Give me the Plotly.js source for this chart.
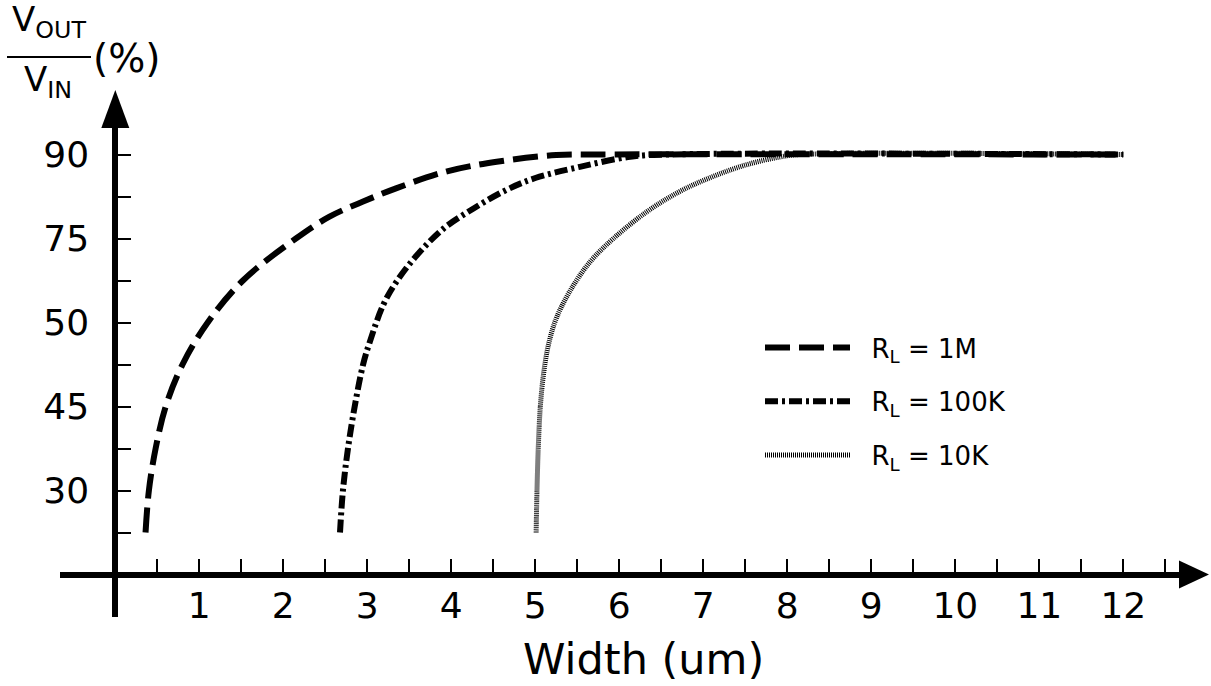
<!DOCTYPE html>
<html>
<head>
<meta charset="utf-8">
<script src="https://cdn.plot.ly/plotly-3.0.1.min.js"></script>
<style>
  html, body { margin: 0; padding: 0; background: #ffffff; }
  #chart { width: 1211px; height: 686px; }
</style>
</head>
<body>
<div id="chart"></div>
<script>
// Output ratio (%) versus device width (um) for three load resistances.
const seriesNames = ['R<sub>L</sub> = 1M', 'R<sub>L</sub> = 100K', 'R<sub>L</sub> = 10K'];

const width1M = [0.36, 0.40, 0.48, 0.60, 0.80, 1.10, 1.52, 2.15, 2.55, 2.95, 3.35, 3.95, 4.54, 5.25, 5.8, 12];
const ratio1M = [15, 30, 37.5, 45, 47.5, 50, 62.5, 75, 78.9, 81.6, 84, 87, 88.7, 89.9, 90, 90];

const width100K = [2.675, 2.71, 2.77, 2.85, 2.95, 3.03, 3.19, 3.35, 3.59, 3.91, 4.27, 4.66, 5.0, 5.53, 6.13, 6.6, 12];
const ratio100K = [15, 30, 37.5, 45, 47.5, 48.85, 55.25, 62.25, 70, 76.8, 80.4, 83.7, 85.8, 87.8, 89.6, 90, 90];

const width10K = [5.01, 5.02, 5.035, 5.06, 5.10, 5.16, 5.25, 5.41, 5.65, 5.93, 6.33, 6.72, 7.12, 7.52, 7.91, 8.15, 12];
const ratio10K = [15, 30, 37.5, 45, 47, 48.75, 51.25, 59.25, 68, 75, 79.8, 83.4, 86.1, 88.2, 89.55, 90, 90];

// The ratio axis is drawn with evenly spaced, unevenly valued labels.
const ratioLabels = ['30', '45', '50', '75', '90'];
const ratioLevelValues = [0, 30, 45, 50, 75, 90];   // value at each evenly spaced level
const widthLabels = ['1', '2', '3', '4', '5', '6', '7', '8', '9', '10', '11', '12'];

// Map a ratio value onto the evenly spaced label levels.
function toLevel(v) {
  for (let i = 0; i < ratioLevelValues.length - 1; i++) {
    const a = ratioLevelValues[i], b = ratioLevelValues[i + 1];
    if (v <= b || i === ratioLevelValues.length - 2) return i + (v - a) / (b - a);
  }
}

// Ticks every half step; only whole steps carry labels.
const xTickVals = [], xTickText = [];
widthLabels.forEach((t, i) => {
  xTickVals.push(i + 0.5, i + 1); xTickText.push('', t);
});
xTickVals.push(widthLabels.length + 0.5); xTickText.push('');

const yTickVals = [], yTickText = [];
ratioLabels.forEach((t, i) => {
  yTickVals.push(i + 0.5, i + 1); yTickText.push('', t);
});

// Page geometry (px)
const W = 1211, H = 686;
const M = { l: 60, r: 31, t: 126, b: 69 };
const plotW = W - M.l - M.r, plotH = H - M.t - M.b;
const unitPx = 84;
const originX = 115.3, originY = 574.5;
const xRange = [(M.l - originX) / unitPx, (W - M.r - originX) / unitPx];
const yRange = [(originY - (H - M.b)) / unitPx, (originY - M.t) / unitPx];
const px = x => (x - M.l) / plotW;
const py = y => (H - M.b - y) / plotH;

const font = 'DejaVu Sans, Verdana, sans-serif';
const pad = '\u00a0\u00a0';   // gap between legend line sample and its label

const styles = [
  { color: '#000000', width: 6, dash: '25px,9px' },
  { color: '#000000', width: 6, dash: '13px,4px,3px,4px' },
  { color: '#000000', width: 5, dash: '1px,1px' }
];
const xs = [width1M, width100K, width10K];
const ys = [ratio1M, ratio100K, ratio10K];

const traces = xs.map((x, i) => ({
  type: 'scatter',
  mode: 'lines',
  name: pad + seriesNames[i],
  legendgroup: 'g' + i,
  x: x,
  y: ys[i].map(toLevel),
  line: { color: styles[i].color, width: styles[i].width, dash: styles[i].dash, shape: 'spline', smoothing: 1 },
  hoverinfo: 'skip'
}));

const layout = {
  width: W, height: H,
  margin: M,
  paper_bgcolor: '#ffffff',
  plot_bgcolor: '#ffffff',
  font: { family: font, color: '#000000' },
  showlegend: true,
  legend: {
    x: px(760), y: py(324), xanchor: 'left', yanchor: 'top',
    font: { family: font, size: 26, color: '#000000' },
    itemwidth: 85, tracegroupgap: 17, traceorder: 'grouped',
    bgcolor: 'rgba(0,0,0,0)'
  },
  xaxis: {
    range: xRange, domain: [0, 1],
    anchor: 'free', position: py(originY),
    showgrid: false, zeroline: false,
    showline: true, linecolor: '#000000', linewidth: 6,
    ticks: 'inside', ticklen: 13, tickwidth: 2, tickcolor: '#000000',
    tickvals: xTickVals, ticktext: xTickText,
    tickfont: { family: font, size: 36, color: '#000000' },
    ticklabelstandoff: -3
  },
  yaxis: {
    range: yRange, domain: [0, 1],
    anchor: 'free', position: px(originX),
    showgrid: false, zeroline: false,
    showline: true, linecolor: '#000000', linewidth: 6,
    ticks: 'inside', ticklen: 13, tickwidth: 2, tickcolor: '#000000',
    tickvals: yTickVals, ticktext: yTickText,
    tickfont: { family: font, size: 36, color: '#000000' },
    ticklabelstandoff: 16
  },
  shapes: [
    // arrowheads at the ends of both axes
    { type: 'path', xref: 'paper', yref: 'paper', layer: 'above',
      path: `M${px(1179)},${py(originY - 14)} L${px(1209)},${py(originY)} L${px(1179)},${py(originY + 14)} Z`,
      fillcolor: '#000000', line: { width: 0 } },
    { type: 'path', xref: 'paper', yref: 'paper', layer: 'above',
      path: `M${px(originX - 14)},${py(128)} L${px(originX)},${py(90)} L${px(originX + 14)},${py(128)} Z`,
      fillcolor: '#000000', line: { width: 0 } },
    // fraction bar of the ratio label
    { type: 'line', xref: 'paper', yref: 'paper',
      x0: px(7), x1: px(91), y0: py(57), y1: py(57),
      line: { color: '#000000', width: 2 } }
  ],
  annotations: [
    { text: 'V<sub>OUT</sub>', xref: 'paper', yref: 'paper', x: px(10), y: py(46),
      xanchor: 'left', yanchor: 'bottom', showarrow: false,
      font: { family: font, size: 34, color: '#000000' } },
    { text: 'V<sub>IN</sub>', xref: 'paper', yref: 'paper', x: px(22), y: py(57),
      xanchor: 'left', yanchor: 'top', showarrow: false,
      font: { family: font, size: 34, color: '#000000' } },
    { text: '(%)', xref: 'paper', yref: 'paper', x: px(91), y: py(58),
      xanchor: 'left', yanchor: 'middle', showarrow: false,
      font: { family: font, size: 39, color: '#000000' } },
    { text: 'Width (um)', xref: 'paper', yref: 'paper', x: px(643), y: py(659),
      xanchor: 'center', yanchor: 'middle', showarrow: false,
      font: { family: font, size: 43, color: '#000000' } }
  ]
};

Plotly.newPlot('chart', traces, layout, { staticPlot: true, displayModeBar: false });
</script>
</body>
</html>
